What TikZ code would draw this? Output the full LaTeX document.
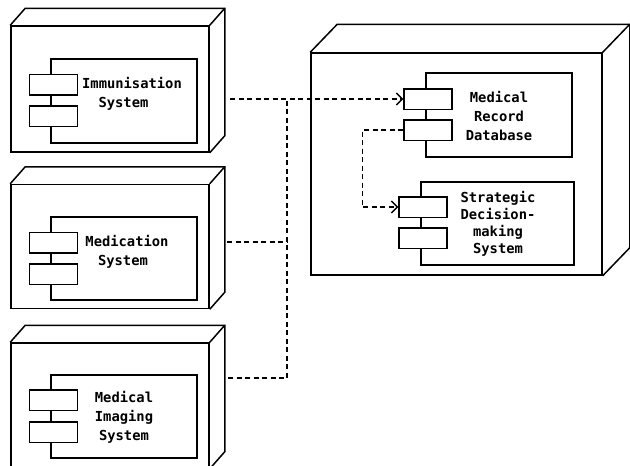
\documentclass[tikz,border=0pt]{standalone}
\usepackage{fontspec}
\newfontfamily\lblfont{DejaVu Sans Mono}
\usetikzlibrary{arrows.meta}

% Deployment node drawn as a box with top and right faces.
% #1 name, #2 centre, #3 width, #4 height, #5 depth offset
\newcommand{\devicenode}[5]{%
  \node[devfront, minimum width=#3, minimum height=#4] (#1) at (#2) {};
  \draw[edge] (#1.north west) -- ++(#5) -- ([shift={(#5)}]#1.north east)
              -- ([shift={(#5)}]#1.south east) -- (#1.south east);
  \draw[edge] (#1.north east) -- ++(#5);
}

\begin{document}
\begin{tikzpicture}[x=1pt,y=-1pt,
  edge/.style={line width=1.5pt, line join=miter},
  devfront/.style={draw, line width=1.5pt, fill=white, inner sep=0pt},
  compbody/.style={draw, line width=1.5pt, fill=white, inner sep=0pt},
  compport/.style={draw, line width=1.5pt, fill=white, inner sep=0pt,
                   minimum width=48pt, minimum height=20.5pt},
  comptext/.style={font=\lblfont\bfseries\fontsize{13.8}{19}\selectfont,
                   align=center, inner sep=0pt},
  dep/.style={line width=1.3pt, dash pattern=on 5pt off 3.5pt},
  deparrow/.style={dep, -{Straight Barb[length=6pt,width=12pt]}}
]
\useasboundingbox (0,0) rectangle (630,466);
\clip (0,0) rectangle (630,466);

% Immunisation
\devicenode{imm}{110,89}{198pt}{126pt}{15,-17}
\node[compbody, minimum width=146pt, minimum height=84pt] (immc) at (124,101) {};
\node[compport] (immp1) at (53.5,84.5) {};
\node[compport] (immp2) at (53.5,116) {};
\node[comptext] (immt) at (132,94) {Immunisation\\System\hspace*{17pt}};

% Medication
\devicenode{med}{110,246.5}{198pt}{124pt}{15,-17}
\node[compbody, minimum width=146pt, minimum height=83pt] (medc) at (124,258.5) {};
\node[compport] (medp1) at (53.5,242.5) {};
\node[compport] (medp2) at (53.5,274) {};
\node[comptext] (medt) at (127,252) {Medication\\System\hspace*{8pt}};

% Medical Imaging
\devicenode{img}{110,405.5}{198pt}{125pt}{15,-17}
\node[compbody, minimum width=146pt, minimum height=83pt] (imgc) at (124,416.5) {};
\node[compport] (imgp1) at (53.5,400) {};
\node[compport] (imgp2) at (53.5,432) {};
\node[comptext] (imgt) at (124,417) {Medical\\Imaging\\System};

% Server
\devicenode{srv}{456.5,164}{291pt}{222pt}{27,-28}
\node[compbody, minimum width=146pt, minimum height=84pt] (dbc) at (499,115) {};
\node[compport] (dbp1) at (428,99) {};
\node[compport] (dbp2) at (428,130) {};
\node[comptext] (dbt) at (499,116) {Medical\\Record\\Database};

\node[compbody, minimum width=153pt, minimum height=83pt] (sdc) at (497.5,223.5) {};
\node[compport] (sdp1) at (423,207) {};
\node[compport] (sdp2) at (423,238) {};
\node[comptext, font=\lblfont\bfseries\fontsize{13.8}{17}\selectfont] (sdt) at (498,224)
  {Strategic\\Decision-\\making\\System};

% Dependencies
\coordinate (immout) at (230,99);
\coordinate (medout) at (227,242);
\coordinate (imgout) at (228,378);
\coordinate (bus) at (287,99);
\draw[deparrow] (immout) -- (dbp1.west);
\draw[dep] (medout) -- (medout -| bus);
\draw[dep] (imgout) -| (bus);
\draw[deparrow] (dbp2.west) -- ++(-41,0) |- (sdp1.west);
\end{tikzpicture}
\end{document}
